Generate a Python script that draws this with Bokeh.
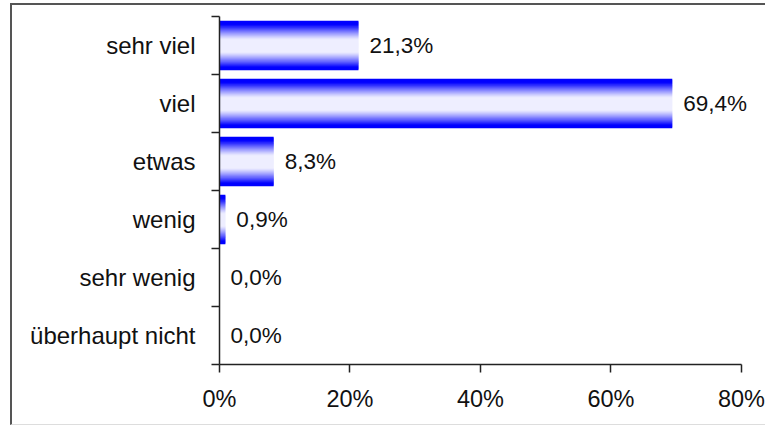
from bokeh.plotting import figure
from bokeh.models import FixedTicker, ColumnDataSource, Range1d
from bokeh.core.properties import value
from bokeh.embed import file_html
from bokeh.resources import INLINE

# ---- data ----
categories = ["sehr viel", "viel", "etwas", "wenig", "sehr wenig", "überhaupt nicht"]
percent = [21.3, 69.4, 8.3, 0.9, 0.0, 0.0]
x_ticks = [0, 20, 40, 60, 80]
x_tick_labels = ["0%", "20%", "40%", "60%", "80%"]

n = len(categories)
centers = [n - i - 0.5 for i in range(n)]
bar_h = 0.84
slices = 48

FONT = "Liberation Sans"
TXT = "#111111"

p = figure(width=753, height=419, output_backend="svg", toolbar_location=None,
           x_range=Range1d(0, 84.0), y_range=Range1d(0, n),
           min_border_left=207, min_border_right=0, min_border_top=11, min_border_bottom=63)
p.styles = {"position": "relative", "margin-left": "10px", "margin-top": "3px",
            "border-top": "2px solid #555555", "border-left": "2px solid #555555",
            "border-bottom": "1px solid #dddddd", "box-sizing": "content-box"}
p.outline_line_color = None
p.grid.visible = False
p.background_fill_color = "white"
p.border_fill_color = "white"

# gradient bars made from thin horizontal slices
ys, rights, cols = [], [], []
for c, v in zip(centers, percent):
    for j in range(slices):
        pos = (j + 0.5) / slices
        y = c - bar_h / 2 + pos * bar_h
        t = abs(pos - 0.5) * 2
        m = min(max((t - 0.25) / 0.62, 0.0), 1.0) ** 1.2
        g = int(round(238 * (1 - m)))
        ys.append(y)
        rights.append(v)
        cols.append("#%02x%02xff" % (g, g))
src = ColumnDataSource(dict(y=ys, right=rights, color=cols))
p.hbar(y="y", left=0, right="right", height=bar_h / slices * 1.8, fill_color="color",
       line_color=None, source=src)

# value labels
lab = ColumnDataSource(dict(x=percent, y=centers,
                            t=[("%.1f%%" % v).replace(".", ",") for v in percent]))
p.text(x="x", y="y", text="t", source=lab, x_offset=11, text_baseline="middle",
       text_align="left", text_font=value(FONT), text_font_size="22.5px", text_color=TXT)

# x axis
xa = p.xaxis[0]
xa.bounds = (0, 80)
xa.ticker = FixedTicker(ticks=x_ticks)
xa.major_label_overrides = {t: l for t, l in zip(x_ticks, x_tick_labels)}
xa.major_tick_in = 0
xa.major_tick_out = 8
xa.minor_tick_line_color = None
xa.axis_line_color = "#222222"
xa.axis_line_width = 1.5
xa.major_tick_line_color = "#222222"
xa.major_tick_line_width = 1.5
xa.major_label_text_font = FONT
xa.major_label_text_font_size = "23.5px"
xa.major_label_text_color = TXT
xa.major_label_standoff = 13

# y axis: labels at centers, ticks at boundaries
ya = p.yaxis[0]
ya.ticker = FixedTicker(ticks=centers, minor_ticks=list(range(n + 1)))
ya.major_label_overrides = {c: cat for c, cat in zip(centers, categories)}
ya.major_tick_in = 0
ya.major_tick_out = 0
ya.minor_tick_in = 0
ya.minor_tick_out = 8
ya.minor_tick_line_color = "#222222"
ya.minor_tick_line_width = 1.5
ya.axis_line_color = "#222222"
ya.axis_line_width = 1.5
ya.major_label_text_font = FONT
ya.major_label_text_font_size = "24px"
ya.major_label_text_color = TXT
ya.major_label_standoff = 16

open("out.html", "w").write(file_html(p, INLINE))
